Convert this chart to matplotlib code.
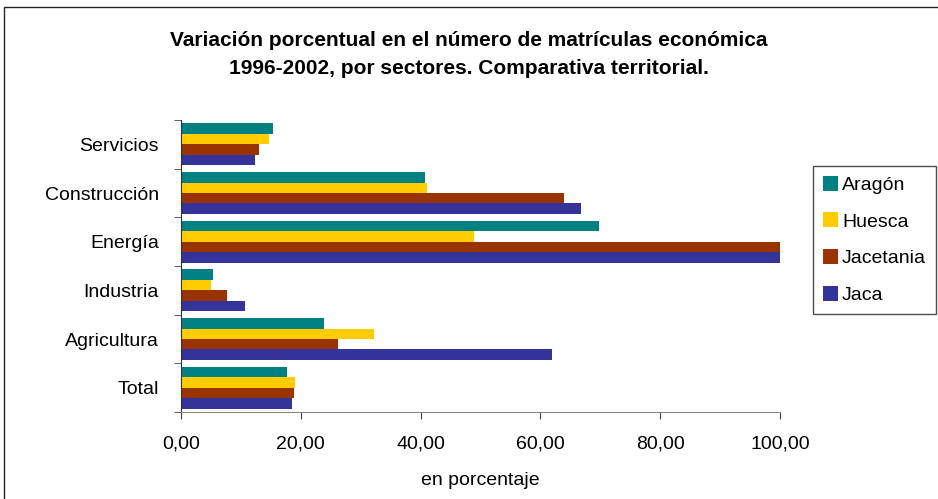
"""
Variación porcentual en el número de matrículas económicas, 1996-2002,
por sectores, con comparativa territorial.
"""

import matplotlib.pyplot as plt
import numpy as np
from matplotlib.patches import Rectangle

plt.rcParams["font.family"] = ["Liberation Sans", "DejaVu Sans"]

# %%
# Data

sectores = ["Total", "Agricultura", "Industria", "Energía", "Construcción", "Servicios"]
territorios = ["Aragón", "Huesca", "Jacetania", "Jaca"]

aragon = [17.7, 23.8, 5.4, 69.7, 40.8, 15.4]
huesca = [19.1, 32.2, 5.0, 48.9, 41.1, 14.7]
jacetania = [18.8, 26.2, 7.7, 100.0, 63.9, 13.1]
jaca = [18.5, 62.0, 10.7, 100.0, 66.7, 12.4]

colores = ["#008080", "#FFCC00", "#993300", "#333399"]

# %%
# Figure

fig = plt.figure(figsize=(9.38, 4.99), dpi=100)
ax = fig.add_axes([181 / 938, 1 - 412 / 499, 599 / 938, 292 / 499])

y = np.arange(len(sectores))
h = 0.215
series = [aragon, huesca, jacetania, jaca]
for i, (nombre, valores, color) in enumerate(zip(territorios, series, colores)):
    offset = (1.5 - i) * h
    ax.barh(y + offset, valores, height=h, color=color, label=nombre, linewidth=0)

ax.set_xlim(0, 100)
ax.set_ylim(-0.5, len(sectores) - 0.5)
ax.set_xticks(np.arange(0, 101, 20))
ax.set_xticklabels([f"{v:.2f}".replace(".", ",") for v in np.arange(0, 101, 20)], fontsize=14)
ax.set_yticks(y)
ax.set_yticklabels(sectores, fontsize=14)
ax.tick_params(axis="y", length=0, pad=16)
ax.set_yticks(np.arange(-0.5, len(sectores), 1), minor=True)
ax.tick_params(axis="y", which="minor", length=5, direction="out", color="#444444")
ax.tick_params(axis="x", length=5, direction="out", color="#444444", pad=12)

for side in ["top", "right"]:
    ax.spines[side].set_visible(False)
ax.spines["left"].set_color("#333333")
ax.spines["bottom"].set_color("#888888")

ax.set_xlabel("en porcentaje", fontsize=14, labelpad=14)

fig.text(0.5, 1 - 40 / 499, "Variación porcentual en el número de matrículas económica",
         ha="center", va="center", fontsize=15, fontweight="bold")
fig.text(0.5, 1 - 68 / 499, "1996-2002, por sectores. Comparativa territorial.",
         ha="center", va="center", fontsize=15, fontweight="bold")

leg = fig.legend(loc="upper left", bbox_to_anchor=(813 / 938, 1 - 166 / 499),
                 fontsize=14, frameon=True, fancybox=False, handlelength=0.8,
                 handleheight=0.8, handletextpad=0.2, labelspacing=0.95,
                 borderpad=0.5, borderaxespad=0)
leg.get_frame().set_edgecolor("#222222")
leg.get_frame().set_linewidth(1.0)

# outer chart border (cut off at right and bottom like the original)
fig.patches.append(Rectangle((4 / 938, -0.02), 1.02, 1 - 7 / 499 + 0.02,
                             transform=fig.transFigure, fill=False,
                             edgecolor="#222222", linewidth=1.0))

fig.savefig("out.png", dpi=100)
